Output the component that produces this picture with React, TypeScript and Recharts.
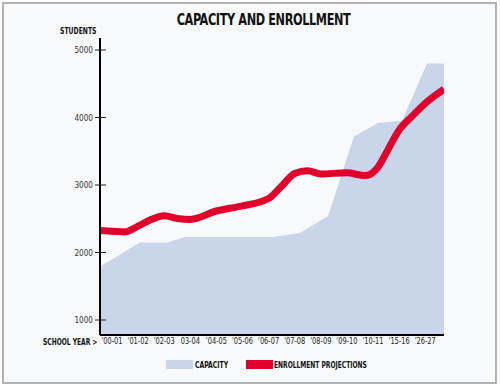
import { Area, ComposedChart, Line, XAxis, YAxis } from 'recharts';

// school years along the bottom axis (category index 0..12)
const yearLabels = [
  "'00-01", "'01-02", "'02-03", '03-04', "'04-05", "'05-06", "'06-07",
  "'07-08", "'08-09", "'09-10", "'10-11", "'15-16", "'26-27",
];
const studentTicks = [1000, 2000, 3000, 4000, 5000];

// capacity steps, x given as position on the year index scale
const capacityAt = [-0.46, 1.07, 2.11, 2.8, 6.17, 7.2, 8.28, 9.27, 10.19, 11.11, 12.07, 12.72];
const capacity = [1790, 2150, 2150, 2230, 2230, 2290, 2540, 3720, 3920, 3950, 4800, 4800];

// enrollment projection curve
const enrollmentAt = [
  -0.46, 0, 0.5, 1, 1.5, 2, 2.5, 3, 4, 5, 6, 6.5, 7, 7.5, 8, 9, 9.7, 10.2, 10.5, 11, 11.5, 12, 12.72,
];
const enrollment = [
  2325, 2315, 2305, 2390, 2490, 2545, 2505, 2490, 2615, 2690, 2800, 2985, 3170, 3210, 3165, 3180,
  3140, 3270, 3470, 3815, 4020, 4210, 4420,
];

const capacityData = capacityAt.map((x, i) => ({ x, v: capacity[i] }));
const enrollmentData = enrollmentAt.map((x, i) => ({ x, v: enrollment[i] }));

const FONT = '"DejaVu Sans Condensed", "DejaVu Sans", sans-serif';
const BLUE = '#c9d5eb';
const RED = '#e0002b';

const YTick = (props: any) => {
  const { x, y, payload } = props;
  return (
    <g>
      <line x1={x + 2} x2={x + 13} y1={y} y2={y} stroke="#222" strokeWidth={1} />
      <text
        transform={`translate(${x},${y}) scale(0.9,1)`}
        dy={3}
        textAnchor="end"
        fontSize={9}
        fill="#333"
        fontFamily={FONT}
      >
        {payload.value}
      </text>
    </g>
  );
};

const XTick = (props: any) => {
  const { x, y, payload } = props;
  return (
    <text
      transform={`translate(${x},${y}) scale(0.82,1)`}
      dy={6.5}
      textAnchor="middle"
      fontSize={9}
      fill="#222"
      fontFamily={FONT}
    >
      {yearLabels[payload.value]}
    </text>
  );
};

const boldLabel = (left: number, top: number, size: number, sx = 0.8) => ({
  position: 'absolute' as const,
  left,
  top,
  fontFamily: FONT,
  fontWeight: 700,
  fontSize: size,
  color: '#111',
  whiteSpace: 'nowrap' as const,
  lineHeight: 1,
  transform: `scaleX(${sx})`,
  transformOrigin: 'left top',
});

export default function App() {
  return (
    <div style={{ position: 'absolute', left: 0, top: 0, width: 500, height: 388, background: '#fff' }}>
      <div
        style={{
          position: 'absolute',
          left: 2,
          top: 2,
          width: 491,
          height: 378,
          border: '2px solid #b2b2b2',
          background: '#f8f9fb',
        }}
      />
      <div
        style={{
          ...boldLabel(0, 12, 16.5, 0.76),
          width: 527,
          textAlign: 'center',
          letterSpacing: -0.5,
          transformOrigin: '263.5px top',
        }}
      >
        CAPACITY AND ENROLLMENT
      </div>
      <div style={boldLabel(60, 27, 8.5)}>STUDENTS</div>
      <div style={{ position: 'absolute', left: 0, top: 0 }}>
        <ComposedChart width={500} height={388} margin={{ top: 38, right: 56, bottom: 33, left: 60 }}>
          <XAxis
            dataKey="x"
            type="number"
            domain={[-0.46, 12.72]}
            ticks={yearLabels.map((_, i) => i)}
            interval={0}
            allowDataOverflow
            tick={<XTick />}
            axisLine={{ stroke: '#000', strokeWidth: 2 }}
            tickLine={false}
            tickSize={0}
            tickMargin={2}
            height={20}
          />
          <YAxis
            dataKey="v"
            type="number"
            domain={[778, 5178]}
            ticks={studentTicks}
            allowDataOverflow
            width={40}
            tick={<YTick />}
            axisLine={{ stroke: '#000', strokeWidth: 2 }}
            tickLine={false}
            tickSize={5}
            tickMargin={2}
          />
          <Area
            data={capacityData}
            dataKey="v"
            type="linear"
            stroke="none"
            fill={BLUE}
            fillOpacity={1}
            isAnimationActive={false}
          />
          <Line
            data={enrollmentData}
            dataKey="v"
            type="monotone"
            stroke={RED}
            strokeWidth={7}
            dot={false}
            isAnimationActive={false}
          />
        </ComposedChart>
      </div>
      <div style={boldLabel(43, 337.5, 8.5, 0.78)}>SCHOOL YEAR &gt;</div>
      {/* legend */}
      <div style={{ position: 'absolute', left: 166, top: 360, width: 27, height: 9, background: BLUE }} />
      <div style={boldLabel(195, 360.5, 8.5)}>CAPACITY</div>
      <div style={{ position: 'absolute', left: 246, top: 360, width: 27, height: 9, background: RED }} />
      <div style={boldLabel(274, 360.5, 8.5, 0.78)}>ENROLLMENT PROJECTIONS</div>
    </div>
  );
}
